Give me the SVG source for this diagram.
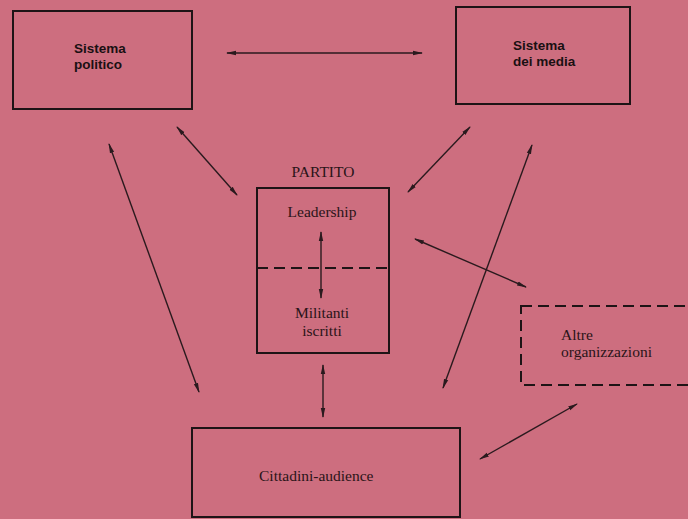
<svg xmlns="http://www.w3.org/2000/svg" width="688" height="519" viewBox="0 0 688 519">
<defs>
<style>
.box{fill:none;stroke:#1e1416;stroke-width:2}
.dash{fill:none;stroke:#1e1416;stroke-width:2;stroke-dasharray:11 6}
.sans{font-family:"Liberation Sans",Arial,sans-serif;font-weight:bold;font-size:13.5px;fill:#1a1012}
.serif{font-family:"Liberation Serif","Times New Roman",serif;font-size:15.5px;fill:#2a1418}
.conn{stroke:#2a1a1e;stroke-width:1.4;fill:none;marker-start:url(#ah);marker-end:url(#ah)}
</style>
<marker id="ah" viewBox="0 0 10 6" refX="9" refY="3" markerWidth="10" markerHeight="6" markerUnits="userSpaceOnUse" orient="auto-start-reverse">
<path d="M0,0.8 L10,3 L0,5.2 Z" fill="#2a1a1e"/>
</marker>
</defs>
<rect width="688" height="519" fill="#cd6e7f"/>
<g id="sistema-politico">
<rect class="box" x="13" y="11" width="179" height="98"/>
<text class="sans" x="74" y="53">Sistema</text>
<text class="sans" x="74" y="69">politico</text>
</g>
<g id="sistema-media">
<rect class="box" x="456" y="7" width="174" height="97"/>
<text class="sans" x="513" y="50">Sistema</text>
<text class="sans" x="513" y="66">dei media</text>
</g>
<g id="partito">
<text class="serif" x="323" y="177" text-anchor="middle" font-size="14.5">PARTITO</text>
<rect class="box" x="257" y="188" width="132" height="165"/>
<line class="dash" x1="257" y1="268" x2="389" y2="268"/>
<text class="serif" x="322" y="217" text-anchor="middle">Leadership</text>
<text class="serif" x="322" y="318" text-anchor="middle">Militanti</text>
<text class="serif" x="322" y="336" text-anchor="middle">iscritti</text>
</g>
<g id="altre-organizzazioni">
<rect class="dash" x="521" y="306" width="180" height="79"/>
<text class="serif" x="561" y="340">Altre</text>
<text class="serif" x="561" y="357">organizzazioni</text>
</g>
<g id="cittadini-audience">
<rect class="box" x="192" y="428" width="268" height="89"/>
<text class="serif" x="259" y="481">Cittadini-audience</text>
</g>
<g id="connectors">
<line class="conn" x1="227" y1="53" x2="422" y2="53"/>
<line class="conn" x1="177" y1="127" x2="237" y2="195"/>
<line class="conn" x1="470" y1="127" x2="408" y2="192"/>
<line class="conn" x1="109" y1="144" x2="199" y2="392"/>
<line class="conn" x1="532" y1="145" x2="443" y2="388"/>
<line class="conn" x1="321" y1="232" x2="321" y2="298"/>
<line class="conn" x1="415" y1="239" x2="526" y2="287"/>
<line class="conn" x1="323" y1="365" x2="323" y2="417"/>
<line class="conn" x1="480" y1="459" x2="577" y2="404"/>
</g>
</svg>
